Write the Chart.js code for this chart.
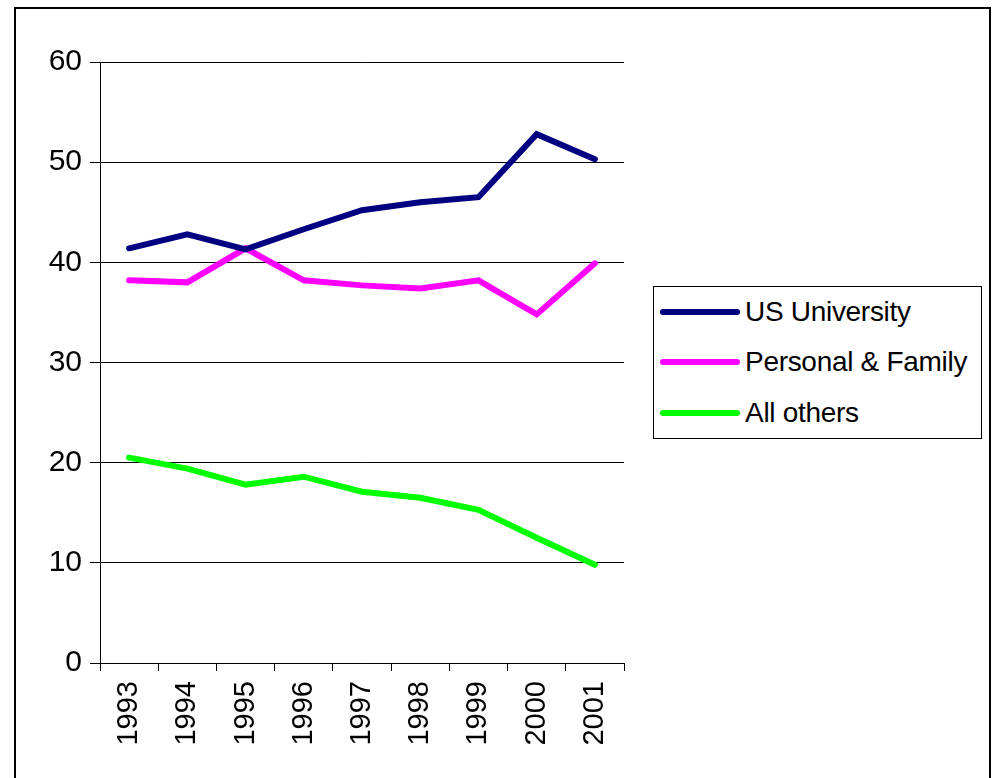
<!DOCTYPE html>
<html>
<head>
<meta charset="utf-8">
<script src="https://cdn.jsdelivr.net/npm/chart.js@4.4.1/dist/chart.umd.min.js"></script>
<style>
  html, body { margin: 0; padding: 0; background: #fff; }
  #wrap { position: relative; width: 994px; height: 778px; overflow: hidden; }
  #frame { position: absolute; left: 14px; top: 7px; width: 977px; height: 820px; border: 2px solid #000; box-sizing: border-box; }
  #c { position: absolute; left: 0; top: 0; }
  #legend { position: absolute; left: 653px; top: 286px; width: 329px; height: 153px; border: 1px solid #000; box-sizing: border-box; background: #fff;
            font-family: "Liberation Sans", Arial, sans-serif; font-size: 28px; color: #000; letter-spacing: -0.3px; }
  .item { position: absolute; left: 6px; height: 30px; display: flex; align-items: center; white-space: nowrap; }
  .sw { width: 80px; height: 6px; border-radius: 3px; margin-right: 5px; }
</style>
</head>
<body>
<div id="wrap">
  <div id="frame"></div>
  <canvas id="c" width="994" height="778"></canvas>
  <div id="legend"></div>
</div>
<script>
const years = ["1993","1994","1995","1996","1997","1998","1999","2000","2001"];
const seriesNames = ["US University", "Personal & Family", "All others"];
const usUniversity = [41.4, 42.8, 41.3, 43.3, 45.2, 46.0, 46.5, 52.8, 50.3];
const personalFamily = [38.2, 38.0, 41.4, 38.2, 37.7, 37.4, 38.2, 34.8, 39.9];
const allOthers = [20.5, 19.4, 17.8, 18.6, 17.1, 16.5, 15.3, 12.5, 9.8];
const yTicks = [0, 10, 20, 30, 40, 50, 60];
const colors = ["#000080", "#FF00FF", "#00FF00"];

const seriesValues = [usUniversity, personalFamily, allOthers];
const family = '"Liberation Sans", Arial, sans-serif';

new Chart(document.getElementById('c'), {
  type: 'line',
  data: {
    labels: years,
    datasets: seriesValues.map((vals, i) => ({
      label: seriesNames[i],
      data: vals,
      borderColor: colors[i],
      backgroundColor: colors[i],
      borderWidth: 6,
      borderCapStyle: 'round',
      pointRadius: 0,
      tension: 0,
      fill: false
    }))
  },
  options: {
    responsive: false,
    animation: false,
    layout: { padding: { left: 0, top: 62, right: 370, bottom: 0 } },
    plugins: { legend: { display: false }, tooltip: { enabled: false } },
    scales: {
      x: {
        type: 'category',
        offset: true,
        grid: { offset: true, drawOnChartArea: false, drawTicks: true, tickLength: 8, color: '#000', lineWidth: 1 },
        border: { color: '#000', width: 1 },
        ticks: { font: { family: family, size: 29 }, color: '#000', minRotation: 90, maxRotation: 90, padding: 10, autoSkip: false },
        afterFit: (s) => { s.height = 115; }
      },
      y: {
        min: yTicks[0],
        max: yTicks[yTicks.length - 1],
        afterBuildTicks: (s) => { s.ticks = yTicks.map(v => ({ value: v })); },
        grid: { color: '#000', lineWidth: 1, drawTicks: true, tickLength: 10 },
        border: { color: '#000', width: 1 },
        ticks: { font: { family: family, size: 30 }, color: '#000', padding: 8 },
        afterFit: (s) => { s.width = 100; }
      }
    }
  }
});

const legend = document.getElementById('legend');
const rowTops = [10, 60, 111];
seriesNames.forEach((name, i) => {
  const it = document.createElement('div');
  it.className = 'item';
  it.style.top = rowTops[i] + 'px';
  const sw = document.createElement('span');
  sw.className = 'sw';
  sw.style.background = colors[i];
  const tx = document.createElement('span');
  tx.textContent = name;
  it.appendChild(sw);
  it.appendChild(tx);
  legend.appendChild(it);
});
</script>
</body>
</html>
